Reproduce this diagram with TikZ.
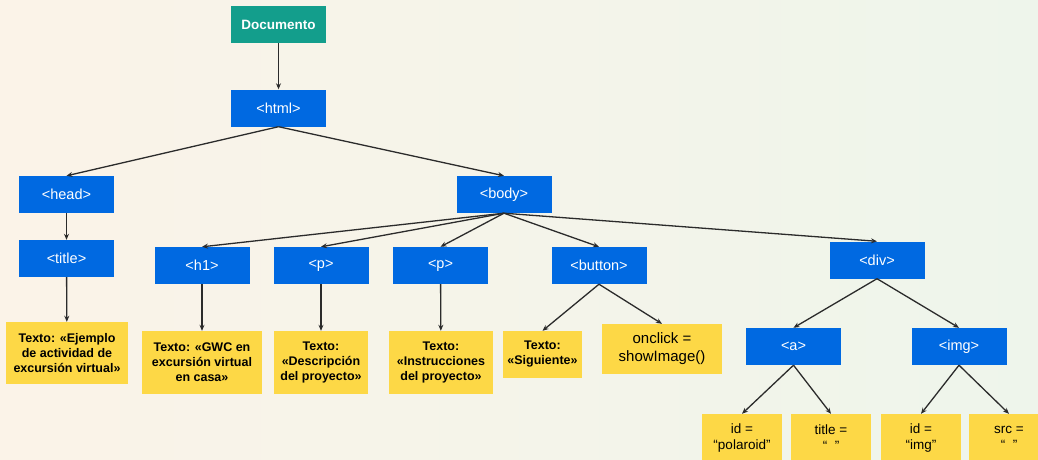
\documentclass[tikz,border=0pt]{standalone}
\usepackage{fontspec}
\setmainfont{Liberation Sans}
\usetikzlibrary{positioning,arrows.meta}
\definecolor{tagblue}{HTML}{0069E1}
\definecolor{docteal}{HTML}{139E8C}
\definecolor{noteyellow}{HTML}{FDD846}
\definecolor{bgcream}{HTML}{FBF3E8}
\definecolor{bggreen}{HTML}{EEF5EB}
\definecolor{linkgray}{HTML}{2B2B2B}

\begin{document}
\begin{tikzpicture}[x=1pt, y=-1pt,
    tag/.style={rectangle, fill=tagblue, text=white, minimum width=95pt, minimum height=37pt, inner sep=0pt, font=\fontsize{14.5}{16}\selectfont},
    doc/.style={tag, fill=docteal, font=\fontsize{13.5}{16}\selectfont\bfseries},
    texto/.style={rectangle, fill=noteyellow, align=center, inner sep=0pt, font=\fontsize{12.5}{15}\selectfont\bfseries},
    attr/.style={texto, minimum width=80pt, minimum height=48pt, font=\fontsize{13.5}{16}\selectfont},
    link/.style={draw=linkgray, line width=1.3pt, -{Stealth[length=6pt,width=5pt]}}
]
    \shade[left color=bgcream, right color=bggreen] (0,0) rectangle (1038,460);
    \useasboundingbox (0,0) rectangle (1038,460);
    \clip (0,0) rectangle (1038,460);

    \node[doc] (documento) at (278.5,24.5) {Documento};
    \node[tag] (html) at (278.5,108) {<html>};
    \node[tag] (head) at (66.5,194.5) {<head>};
    \node[tag] (body) at (504,194.5) {<body>};
    \node[tag] (title) at (66.5,258.5) {<title>};
    \node[tag] (h1) at (202,265.5) {<h1>};
    \node[tag] (p1) at (321,265.5) {<p>};
    \node[tag] (p2) at (440.5,265.5) {<p>};
    \node[tag] (button) at (599,265.5) {<button>};
    \node[tag] (div) at (877,260) {<div>};
    \node[tag] (a) at (793.5,346.5) {<a>};
    \node[tag] (img) at (959,346.5) {<img>};

    \node[texto, minimum width=122pt, minimum height=62pt] (ejemplo) at (67,353) {Texto: «Ejemplo\\de actividad de\\excursión virtual»};
    \node[texto, minimum width=120pt, minimum height=63pt] (gwc) at (202,362.5) {Texto: «GWC en\\excursión virtual\\en casa»};
    \node[texto, minimum width=94pt, minimum height=63pt] (descripcion) at (321,362.5) {Texto:\\«Descripción\\del proyecto»};
    \node[texto, minimum width=104pt, minimum height=63pt] (instrucciones) at (441,362.5) {Texto:\\«Instrucciones\\del proyecto»};
    \node[texto, minimum width=79pt, minimum height=47pt] (siguiente) at (542.5,354.5) {Texto:\\«Siguiente»};
    \node[texto, minimum width=120pt, minimum height=50pt, font=\fontsize{15}{18}\selectfont] (onclick) at (662,349) {onclick =\\showImage()};
    \node[attr] (polaroid) at (742,438) {id =\\“polaroid”};
    \node[attr] (titleattr) at (831,438) {title =\\“\ \ ”};
    \node[attr] (imgid) at (921,438) {id =\\“img”};
    \node[attr] (src) at (1009,438) {src =\\“\ \ ”};

    \draw[link] (documento) -- (html);
    \draw[link] (html.south) -- (head.north);
    \draw[link] (html.south) -- (body.north);
    \draw[link] (head) -- (title);
    \draw[link] (title) -- (ejemplo);
    \foreach \kid in {h1,p1,p2,button,div}
        \draw[link] (body.south) -- (\kid.north);
    \draw[link] (h1) -- (gwc);
    \draw[link] (p1) -- (descripcion);
    \draw[link] (p2) -- (instrucciones);
    \draw[link] (button.south) -- (siguiente.north);
    \draw[link] (button.south) -- (onclick.north);
    \draw[link] (div.south) -- (a.north);
    \draw[link] (div.south) -- (img.north);
    \draw[link] (a.south) -- (polaroid.north);
    \draw[link] (a.south) -- (titleattr.north);
    \draw[link] (img.south) -- (imgid.north);
    \draw[link] (img.south) -- (src.north);
\end{tikzpicture}
\end{document}
